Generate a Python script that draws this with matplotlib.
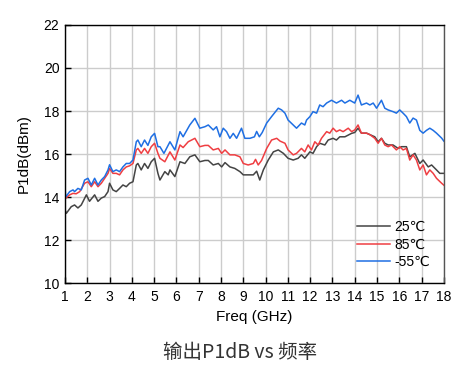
import matplotlib
matplotlib.use("Agg")
import matplotlib.pyplot as plt

plt.rcParams['font.family'] = ['Liberation Sans', 'DejaVu Sans']

# 25 C
freq_25 = [1.0, 1.06, 1.28, 1.43, 1.58, 1.73, 1.96, 2.1, 2.33, 2.48, 2.63, 2.78, 2.93, 3.0,
           3.15, 3.3, 3.45, 3.6, 3.75, 3.9, 4.05, 4.2, 4.27, 4.42, 4.57, 4.72, 4.87, 5.02,
           5.17, 5.26, 5.48, 5.63, 5.71, 5.93, 6.16, 6.38, 6.6, 6.83, 7.05, 7.28, 7.43,
           7.65, 7.88, 8.03, 8.18, 8.4, 8.62, 8.85, 9.0, 9.22, 9.45, 9.6, 9.74, 9.9,
           10.12, 10.35, 10.57, 10.8, 11.01, 11.24, 11.46, 11.61, 11.76, 11.99, 12.13,
           12.29, 12.43, 12.66, 12.81, 13.03, 13.18, 13.33, 13.56, 13.71, 13.86, 14.0,
           14.15, 14.3, 14.53, 14.9, 15.05, 15.2, 15.35, 15.5, 15.72, 15.95, 16.1, 16.32,
           16.47, 16.7, 16.92, 17.07, 17.3, 17.45, 17.67, 17.82, 18.0]
p1db_25 = [13.4, 13.24, 13.55, 13.63, 13.49, 13.63, 14.1, 13.8, 14.1, 13.8, 13.95, 14.02,
           14.25, 14.64, 14.33, 14.25, 14.4, 14.56, 14.48, 14.64, 14.71, 15.49, 15.56,
           15.26, 15.56, 15.33, 15.64, 15.8, 15.1, 14.79, 15.18, 15.03, 15.26, 14.95,
           15.64, 15.56, 15.87, 15.96, 15.64, 15.7, 15.7, 15.49, 15.56, 15.4, 15.6, 15.4,
           15.33, 15.18, 15.03, 15.03, 15.03, 15.2, 14.79, 15.26, 15.72, 16.1, 16.19,
           16.03, 15.8, 15.72, 15.8, 15.96, 15.8, 16.1, 16.03, 16.34, 16.5, 16.42, 16.65,
           16.73, 16.65, 16.8, 16.8, 16.88, 16.96, 17.0, 17.2, 16.97, 16.97, 16.8, 16.57,
           16.73, 16.5, 16.42, 16.42, 16.26, 16.34, 16.34, 15.87, 16.03, 15.56, 15.72,
           15.4, 15.49, 15.26, 15.1, 15.1]

# 85 C
freq_85 = [1.0, 1.03, 1.21, 1.36, 1.5, 1.66, 1.88, 2.03, 2.18, 2.33, 2.48, 2.63, 2.78,
           2.93, 3.0, 3.15, 3.3, 3.45, 3.6, 3.75, 3.9, 4.05, 4.2, 4.27, 4.42, 4.57, 4.72,
           4.87, 5.02, 5.17, 5.26, 5.48, 5.71, 5.93, 6.16, 6.3, 6.53, 6.83, 7.05, 7.28,
           7.43, 7.65, 7.88, 8.03, 8.18, 8.4, 8.62, 8.85, 9.0, 9.22, 9.45, 9.55, 9.67,
           9.82, 10.05, 10.27, 10.5, 10.65, 10.87, 11.01, 11.24, 11.39, 11.61, 11.76,
           11.91, 12.06, 12.21, 12.36, 12.51, 12.74, 12.88, 13.03, 13.18, 13.33, 13.48,
           13.71, 13.86, 14.0, 14.15, 14.3, 14.53, 14.68, 14.9, 15.05, 15.2, 15.35, 15.5,
           15.65, 15.87, 16.02, 16.17, 16.32, 16.47, 16.62, 16.77, 16.92, 17.07, 17.22,
           17.37, 17.52, 17.67, 17.9, 18.0]
p1db_85 = [14.1, 13.94, 14.1, 14.17, 14.15, 14.25, 14.64, 14.71, 14.48, 14.71, 14.48,
           14.64, 14.87, 15.1, 15.33, 15.1, 15.1, 15.03, 15.26, 15.4, 15.45, 15.56, 16.19,
           16.26, 16.03, 16.26, 16.03, 16.34, 16.5, 16.03, 15.8, 15.64, 16.1, 15.72,
           16.42, 16.3, 16.57, 16.73, 16.34, 16.4, 16.4, 16.19, 16.26, 16.03, 16.19,
           15.96, 15.96, 15.87, 15.56, 15.49, 15.56, 15.75, 15.49, 15.7, 16.26, 16.65,
           16.73, 16.6, 16.5, 16.19, 15.96, 16.03, 16.26, 16.1, 16.42, 16.19, 16.57,
           16.42, 16.73, 17.04, 16.97, 17.2, 17.04, 17.12, 17.04, 17.2, 17.04, 17.12,
           17.35, 16.97, 16.97, 16.9, 16.73, 16.5, 16.73, 16.42, 16.34, 16.42, 16.19,
           16.34, 16.19, 16.26, 15.72, 15.96, 15.72, 15.26, 15.49, 15.03, 15.26, 15.1,
           14.87, 14.64, 14.55]

# -55 C
freq_m55 = [1.0, 1.03, 1.21, 1.36, 1.43, 1.58, 1.73, 1.88, 2.03, 2.18, 2.33, 2.48, 2.63,
            2.78, 2.93, 3.0, 3.15, 3.3, 3.45, 3.6, 3.75, 3.9, 4.05, 4.2, 4.27, 4.42, 4.57,
            4.72, 4.87, 5.02, 5.17, 5.26, 5.44, 5.71, 5.93, 6.16, 6.3, 6.6, 6.83, 7.05,
            7.28, 7.43, 7.65, 7.8, 7.95, 8.1, 8.25, 8.4, 8.55, 8.7, 8.92, 9.07, 9.3, 9.5,
            9.6, 9.72, 9.85, 10.05, 10.27, 10.57, 10.72, 10.87, 11.01, 11.24, 11.39,
            11.61, 11.76, 11.84, 11.99, 12.13, 12.29, 12.43, 12.58, 12.74, 12.96, 13.18,
            13.41, 13.56, 13.78, 14.0, 14.15, 14.3, 14.53, 14.68, 14.83, 14.98, 15.2,
            15.35, 15.5, 15.72, 15.87, 16.02, 16.17, 16.32, 16.47, 16.62, 16.77, 16.92,
            17.07, 17.22, 17.37, 17.52, 17.67, 17.9, 18.0]
p1db_m55 = [14.48, 14.0, 14.25, 14.33, 14.25, 14.4, 14.33, 14.79, 14.87, 14.56, 14.87,
            14.56, 14.79, 14.95, 15.26, 15.5, 15.18, 15.26, 15.18, 15.4, 15.56, 15.56,
            15.72, 16.57, 16.65, 16.34, 16.65, 16.4, 16.8, 16.96, 16.34, 16.34, 16.03,
            16.57, 16.19, 17.04, 16.8, 17.35, 17.66, 17.2, 17.27, 17.35, 17.12, 17.27,
            16.8, 17.2, 17.04, 16.73, 16.96, 16.73, 17.2, 16.73, 16.73, 16.8, 17.05, 16.8,
            17.0, 17.44, 17.74, 18.13, 18.05, 17.9, 17.58, 17.35, 17.2, 17.44, 17.35,
            17.58, 17.74, 17.97, 17.9, 18.28, 18.2, 18.37, 18.5, 18.37, 18.5, 18.37, 18.5,
            18.37, 18.74, 18.28, 18.37, 18.28, 18.37, 18.13, 18.5, 18.13, 18.05, 17.97,
            17.9, 18.05, 17.9, 17.74, 17.44, 17.67, 17.58, 17.1, 16.97, 17.1, 17.2, 17.1,
            16.97, 16.74, 16.6]

x_ticks = list(range(1, 19))
y_ticks = [10, 12, 14, 16, 18, 20, 22]

fig = plt.figure(figsize=(4.59, 3.77), dpi=100)
ax = fig.add_axes([0.1416, 0.2493, 0.8254, 0.6844])

ax.plot(freq_25, p1db_25, color='#444444', lw=1.1, label='25℃')
ax.plot(freq_85, p1db_85, color='#ef3e42', lw=1.1, label='85℃')
ax.plot(freq_m55, p1db_m55, color='#1f6fe3', lw=1.1, label='-55℃')

ax.set_xlim(1, 18)
ax.set_ylim(10, 22)
ax.set_xticks(x_ticks)
ax.set_yticks(y_ticks)
ax.grid(True, color='#cccccc', lw=1.0)
ax.set_axisbelow(True)
ax.tick_params(direction='in', length=4, width=1, labelsize=10, pad=4)
ax.tick_params(axis='x', pad=5)
for s in ax.spines.values():
    s.set_linewidth(1.0)
ax.spines['right'].set_color('#555555')

ax.set_xlabel('Freq (GHz)', fontsize=11, labelpad=4)
ax.set_ylabel('P1dB(dBm)', fontsize=11, labelpad=9)

ax.legend(loc='lower right', frameon=False, fontsize=10, handlelength=2.4,
          handletextpad=0.3, labelspacing=0.25, borderaxespad=0.6)

fig.text(0.523, 0.066, '输出P1dB vs 频率', fontsize=14, color='#333333',
         ha='center', va='center', family=['Noto Sans CJK SC', 'DejaVu Sans'])

fig.savefig('out.png', dpi=100)
